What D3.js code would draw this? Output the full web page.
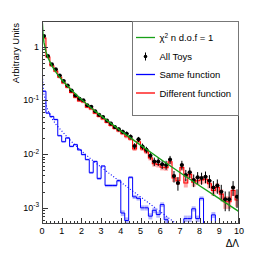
<!DOCTYPE html>
<html>
<head>
<meta charset="utf-8">
<script src="https://cdn.jsdelivr.net/npm/d3@7"></script>
<style>
body { margin: 0; background: #fff; }
text { font-family: "Liberation Sans", Arial, sans-serif; fill: #000; }
</style>
</head>
<body>
<div id="chart"></div>
<script>
var wt = 266;
var ht = 255;
var margin = {top: 21, right: 27, bottom: 31, left: 42};

// binning of the histograms
var xMin = 0, xMax = 10, binWidth = 0.2;
var xTicks = [0, 1, 2, 3, 4, 5, 6, 7, 8, 9, 10];
var yTicks = [1e-3, 1e-2, 1e-1, 1];
var yTickLabels = [["10", "-3"], ["10", "-2"], ["10", "-1"], ["1", ""]];

// All Toys (points)
var allToys = [1.58, 0.67, 0.47, 0.38, 0.29, 0.23, 0.19, 0.152, 0.123, 0.107,
    0.100, 0.081, 0.076, 0.063, 0.054, 0.049, 0.042, 0.037, 0.032, 0.029,
    0.026, 0.024, 0.021, 0.0141, 0.0188,
    0.0139, 0.012, 0.0093, 0.0073, 0.0073, 0.0065, 0.0063, 0.0079, 0.0039, 0.0029,
    0.0063, 0.0041, 0.0046, 0.0033, 0.0037, 0.0036, 0.0038, 0.0032, 0.0024, 0.0026,
    0.0020, 0.00144, 0.00144, 0.0024, 0.0016];

// Different function (red histogram)
var diffFunc = [1.45, 0.64, 0.44, 0.35, 0.27, 0.21, 0.175, 0.14, 0.114, 0.098,
    0.093, 0.075, 0.069, 0.058, 0.050, 0.045, 0.039, 0.034, 0.030, 0.027,
    0.024, 0.021, 0.019, 0.0125, 0.017,
    0.0125, 0.011, 0.0085, 0.0066, 0.0064, 0.0057, 0.0056, 0.0072, 0.0036, 0.0032,
    0.0056, 0.0029, 0.0042, 0.0030, 0.0032, 0.0033, 0.0034, 0.0028, 0.0021, 0.0024,
    0.0018, 0.0013, 0.0013, 0.0021, 0.0014];

// Same function (blue histogram)
var sameFunc = [0.148, 0.058, 0.050, 0.044, 0.022, 0.017, 0.020, 0.0139, 0.015, 0.012,
    0.0098, 0.0079, 0.0045, 0.0073, 0.0035, 0.0060, 0.0026, 0.0026, 0.0026, 0.0032,
    0.0008, 0.00058, 0.0037, 0.0016, 0.0015,
    0.0010, 0.0010, 0.0007, 0.0009, 0.00075, 0.00115, 0.0006, 0, 0, 0,
    0, 0.00063, 0.00063, 0.00096, 0.00063, 0.0015, 0, 0, 0.00074, 0,
    0, 0, 0, 0, 0];

// chi2 curve, 1 d.o.f (green)
var chi2X = [0.02, 0.05, 0.1, 0.2, 0.3, 0.5, 0.75, 1, 1.5, 2, 2.5, 3, 4, 5, 6, 7, 8, 9, 10];
var chi2Y = [2.79, 1.74, 1.20, 0.807, 0.627, 0.439, 0.317, 0.242, 0.154, 0.104, 0.0723,
    0.0514, 0.0270, 0.0147, 0.0081, 0.00455, 0.00258, 0.00148, 0.00085];

// fit for the same function (blue dotted)
var sameFitX = [0.005, 0.01, 0.02, 0.05, 0.1, 0.2, 0.3, 0.5, 0.75, 1, 1.5, 2, 2.5, 3, 4, 5, 6, 7];
var sameFitY = [0.62, 0.44, 0.32, 0.20, 0.13, 0.085, 0.065, 0.046, 0.034, 0.027, 0.017,
    0.0115, 0.0080, 0.0057, 0.0030, 0.0016, 0.00085, 0.00045];

var legendLabels = ["\u03c7", "All Toys", "Same function", "Different function"];

var width = wt - margin.left - margin.right;
var height = ht - margin.top - margin.bottom;

var svg = d3.select("#chart").append("svg")
    .attr("width", wt)
    .attr("height", ht);

var x = d3.scaleLinear().domain([xMin, xMax]).range([margin.left, margin.left + width]);
var y = d3.scaleLog().domain([5e-4, 3]).range([margin.top + height, margin.top]);
var yBottom = margin.top + height;

var yc = function (v) {
    if (!(v > 5e-4)) return yBottom;
    return Math.min(y(v), yBottom);
};

svg.append("clipPath").attr("id", "clip")
    .append("rect")
    .attr("x", margin.left).attr("y", margin.top)
    .attr("width", width).attr("height", height);

var g = svg.append("g").attr("clip-path", "url(#clip)");

var stepPath = function (vals) {
    var p = "M" + x(xMin) + "," + yc(vals[0]);
    vals.forEach(function (v, i) {
        p += "V" + yc(v) + "H" + x(xMin + (i + 1) * binWidth);
    });
    return p;
};

var band = function (vals, k, color, minHalf) {
    var bins = vals.map(function (v, i) { return {i: i, v: v}; })
        .filter(function (d) { return d.v > 0; });
    g.append("g").selectAll("rect")
        .data(bins)
        .enter().append("rect")
        .attr("x", function (d) { return x(xMin + d.i * binWidth); })
        .attr("width", x(binWidth) - x(0))
        .each(function (d) {
            var e = Math.sqrt(d.v * k);
            var mid = yc(d.v);
            var top = Math.min(yc(d.v + e), mid - minHalf);
            var bot = Math.max(yc(Math.max(d.v - e, 1e-6)), mid + minHalf);
            d3.select(this).attr("y", top).attr("height", bot - top);
        })
        .attr("fill", color);
};

// error bands
band(sameFunc, 1.2e-5, "#b4b4ff", 1);
band(diffFunc, 0.9e-4, "#ffa8a8", 1.2);

// histograms
g.append("path")
    .attr("d", stepPath(sameFunc))
    .attr("fill", "none")
    .attr("stroke", "#0000ff")
    .attr("stroke-width", 1);

g.append("path")
    .attr("d", stepPath(diffFunc))
    .attr("fill", "none")
    .attr("stroke", "#ff0000")
    .attr("stroke-width", 1.1);

var line = d3.line()
    .x(function (d) { return x(d[0]); })
    .y(function (d) { return y(d[1]); });

g.append("path")
    .datum(d3.zip(sameFitX, sameFitY))
    .attr("d", line)
    .attr("fill", "none")
    .attr("stroke", "#0000ff")
    .attr("stroke-width", 1.1)
    .attr("stroke-dasharray", "1,2");

// all toys points with errors
var pts = g.append("g");
allToys.forEach(function (v, i) {
    var cx = x(xMin + (i + 0.5) * binWidth);
    var e = Math.sqrt(v * 2.3e-4);
    pts.append("line")
        .attr("x1", cx).attr("x2", cx)
        .attr("y1", y(v + e)).attr("y2", y(Math.max(v - e, 1e-6)))
        .attr("stroke", "#000").attr("stroke-width", 1);
    pts.append("line")
        .attr("x1", x(xMin + i * binWidth)).attr("x2", x(xMin + (i + 1) * binWidth))
        .attr("y1", y(v)).attr("y2", y(v))
        .attr("stroke", "#000").attr("stroke-width", 1);
    pts.append("circle")
        .attr("cx", cx).attr("cy", y(v)).attr("r", 2)
        .attr("fill", "#000");
});

g.append("path")
    .datum(d3.zip(chi2X, chi2Y))
    .attr("d", line)
    .attr("fill", "none")
    .attr("stroke", "#18a018")
    .attr("stroke-width", 1.4);

// axes ticks
var minorX = d3.range(xMin, xMax + 0.001, binWidth).filter(function (v) {
    return Math.abs(v - Math.round(v)) > 0.01;
});
svg.append("g").selectAll("line.mx")
    .data(minorX).enter().append("line")
    .attr("x1", function (d) { return Math.round(x(d)) + 0.5; })
    .attr("x2", function (d) { return Math.round(x(d)) + 0.5; })
    .attr("y1", yBottom).attr("y2", yBottom - 3)
    .attr("stroke", "#333");
svg.append("g").selectAll("line.Mx")
    .data(xTicks).enter().append("line")
    .attr("x1", function (d) { return Math.round(x(d)) + 0.5; })
    .attr("x2", function (d) { return Math.round(x(d)) + 0.5; })
    .attr("y1", yBottom).attr("y2", yBottom - 6)
    .attr("stroke", "#333");

var minorY = [];
[1e-4, 1e-3, 1e-2, 1e-1, 1].forEach(function (dec) {
    for (var m = 2; m <= 9; m++) {
        var v = m * dec;
        if (v > 5e-4 && v < 3) minorY.push(v);
    }
});
svg.append("g").selectAll("line.my")
    .data(minorY).enter().append("line")
    .attr("x1", margin.left).attr("x2", margin.left + 3)
    .attr("y1", function (d) { return Math.round(y(d)) + 0.5; })
    .attr("y2", function (d) { return Math.round(y(d)) + 0.5; })
    .attr("stroke", "#333");
svg.append("g").selectAll("line.My")
    .data(yTicks).enter().append("line")
    .attr("x1", margin.left).attr("x2", margin.left + 6)
    .attr("y1", function (d) { return Math.round(y(d)) + 0.5; })
    .attr("y2", function (d) { return Math.round(y(d)) + 0.5; })
    .attr("stroke", "#333");

// frame
svg.append("rect")
    .attr("x", margin.left + 0.5).attr("y", margin.top + 0.5)
    .attr("width", width - 1).attr("height", height - 1)
    .attr("fill", "none").attr("stroke", "#444");

// tick labels
svg.append("g").selectAll("text")
    .data(xTicks).enter().append("text")
    .attr("x", function (d) { return x(d); })
    .attr("y", yBottom + 9.5)
    .attr("text-anchor", "middle")
    .style("font-size", "9px")
    .text(function (d) { return d; });

var yl = svg.append("g").selectAll("text")
    .data(yTicks).enter().append("text")
    .attr("x", margin.left - 3)
    .attr("y", function (d) { return y(d) + 3; })
    .attr("text-anchor", "end")
    .style("font-size", "9px");
yl.append("tspan")
    .text(function (d, i) { return yTickLabels[i][0]; });
yl.append("tspan")
    .attr("dy", -3.5)
    .style("font-size", "6.5px")
    .text(function (d, i) { return yTickLabels[i][1]; });

// axis titles
svg.append("text")
    .attr("transform", "translate(19," + (margin.top + 2) + ") rotate(-90)")
    .attr("text-anchor", "end")
    .style("font-size", "9.5px")
    .text("Arbitrary Units");

svg.append("text")
    .attr("x", margin.left + width)
    .attr("y", yBottom + 23)
    .attr("text-anchor", "end")
    .style("font-size", "10px")
    .text("\u0394\u039b");

// legend
var lg = svg.append("g");
lg.append("rect")
    .attr("x", 132.5).attr("y", margin.top + 0.5)
    .attr("width", margin.left + width - 133).attr("height", 94)
    .attr("fill", "#fff").attr("stroke", "#777");
var legY = [37.5, 56.5, 74.5, 93];
var legColors = ["#18a018", "#000", "#0000ff", "#ff0000"];
legendLabels.forEach(function (t, i) {
    if (i === 1) {
        lg.append("line").attr("x1", 145.5).attr("x2", 145.5)
            .attr("y1", legY[i] - 4).attr("y2", legY[i] + 4)
            .attr("stroke", "#000");
        lg.append("circle").attr("cx", 145.5).attr("cy", legY[i]).attr("r", 1.8).attr("fill", "#000");
    } else {
        lg.append("line").attr("x1", 136).attr("x2", 155)
            .attr("y1", legY[i]).attr("y2", legY[i])
            .attr("stroke", legColors[i]).attr("stroke-width", 1.3);
    }
    var tx = lg.append("text")
        .attr("x", 159.5)
        .attr("y", legY[i] + 3.5)
        .style("font-size", "9.5px");
    tx.append("tspan").text(t);
    if (i === 0) {
        tx.append("tspan").attr("dy", -3.5).style("font-size", "6.5px").text("2");
        tx.append("tspan").attr("dy", 3.5).text(" n d.o.f = 1");
    }
});
</script>
</body>
</html>
